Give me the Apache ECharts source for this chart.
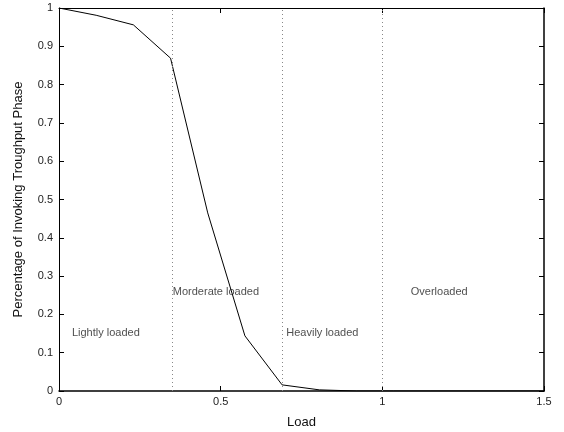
<!DOCTYPE html>
<html>
<head>
<meta charset="utf-8">
<script src="https://cdn.jsdelivr.net/npm/echarts@6/dist/echarts.min.js"></script>
<style>
html, body { margin: 0; padding: 0; background: #fff; }
#main { width: 564px; height: 432px; }
</style>
</head>
<body>
<div id="main"></div>
<script>
// load values (x) and share of invoking throughput phase (y)
var loads = [0, 0.115, 0.23, 0.345, 0.46, 0.575, 0.69, 0.805, 0.92, 1.035, 1.15, 1.265, 1.38, 1.5];
var shares = [1, 0.981, 0.956, 0.869, 0.465, 0.144, 0.016, 0.003, 0, 0, 0, 0, 0, 0];

// region boundaries (dotted vertical lines)
var boundaries = [0.35, 0.69, 1];

// region labels: [x, y, text]
var regionLabels = [
	[0.04, 0.151, 'Lightly loaded'],
	[0.352, 0.258, 'Morderate loaded'],
	[0.703, 0.151, 'Heavily loaded'],
	[1.088, 0.258, 'Overloaded']
];

var fontFam = 'Liberation Sans, Arial, sans-serif';

var chart = echarts.init(document.getElementById('main'));

var lineData = loads.map(function(x, i) { return [x, shares[i]]; });

var option = {
	animation: false,
	backgroundColor: '#fff',
	grid: { left: 59, right: 20, top: 8, bottom: 41, outerBoundsMode: 'none', containLabel: false },
	xAxis: [
		{
			type: 'value', min: 0, max: 1.5, interval: 0.5,
			name: 'Load', nameLocation: 'middle', nameGap: 25,
			nameTextStyle: { color: '#111', fontSize: 13, fontFamily: fontFam },
			axisLine: { show: true, lineStyle: { color: '#000', width: 1.5 } },
			axisTick: { show: true, inside: true, length: 5, lineStyle: { color: '#000' } },
			axisLabel: {
				color: '#222', fontSize: 11, fontFamily: fontFam, margin: 5,
				formatter: function(v) { return String(v); }
			},
			splitLine: { show: false }
		},
		{
			type: 'value', min: 0, max: 1.5, interval: 0.5, position: 'top',
			axisLine: { show: true, onZero: false, lineStyle: { color: '#000', width: 1 } },
			axisTick: { show: true, inside: true, length: 5, lineStyle: { color: '#000' } },
			axisLabel: { show: false },
			splitLine: { show: false }
		}
	],
	yAxis: [
		{
			type: 'value', min: 0, max: 1, interval: 0.1,
			name: 'Percentage of Invoking Troughput Phase', nameLocation: 'middle', nameGap: 34,
			nameTextStyle: { color: '#111', fontSize: 13, fontFamily: fontFam },
			axisLine: { show: true, lineStyle: { color: '#000', width: 1 } },
			axisTick: { show: true, inside: true, length: 5, lineStyle: { color: '#000' } },
			axisLabel: {
				color: '#222', fontSize: 11, fontFamily: fontFam, margin: 6,
				formatter: function(v) { return String(Math.round(v * 10) / 10); }
			},
			splitLine: { show: false }
		},
		{
			type: 'value', min: 0, max: 1, interval: 0.1, position: 'right',
			axisLine: { show: true, onZero: false, lineStyle: { color: '#000', width: 1.5 } },
			axisTick: { show: true, inside: true, length: 5, lineStyle: { color: '#000' } },
			axisLabel: { show: false },
			splitLine: { show: false }
		}
	],
	series: [
		{
			type: 'line',
			data: lineData,
			symbol: 'none',
			lineStyle: { color: '#000', width: 1 },
			z: 3,
			markLine: {
				silent: true,
				symbol: 'none',
				label: { show: false },
				lineStyle: { color: '#888', type: [1, 3], width: 1 },
				data: boundaries.map(function(b) { return { xAxis: b }; })
			}
		},
		{
			type: 'scatter',
			data: regionLabels,
			symbolSize: 0,
			silent: true,
			label: {
				show: true,
				position: 'right',
				distance: 0,
				color: '#222',
				fontSize: 11,
				fontFamily: fontFam,
				formatter: function(p) { return p.data[2]; }
			}
		}
	]
};

chart.setOption(option);
</script>
</body>
</html>
